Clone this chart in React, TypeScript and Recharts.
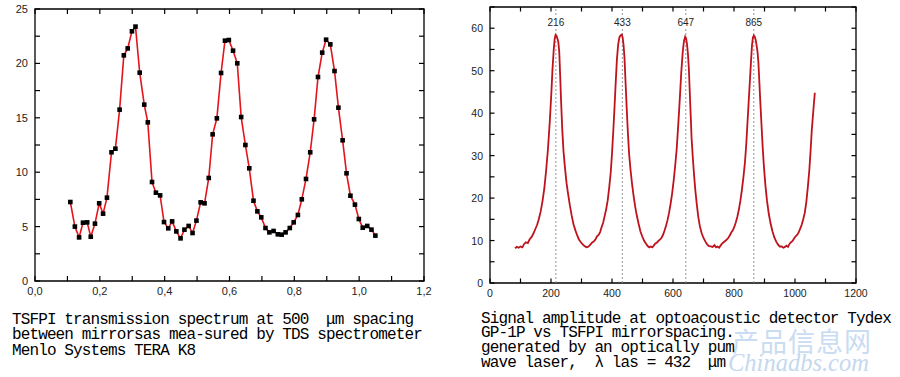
import React from 'react';
import {
  LineChart,
  Line,
  XAxis,
  YAxis,
  ReferenceLine,
  ReferenceArea,
} from 'recharts';

// Left panel: TDS transmission spectrum (frequency, THz -> transmission)
const FREQ = [
  0.109, 0.123, 0.136, 0.148, 0.161, 0.172, 0.185, 0.198, 0.21, 0.222,
  0.236, 0.248, 0.261, 0.274, 0.286, 0.299, 0.31, 0.323, 0.337, 0.348,
  0.361, 0.373, 0.386, 0.398, 0.411, 0.423, 0.436, 0.449, 0.461, 0.474,
  0.486, 0.498, 0.511, 0.523, 0.536, 0.548, 0.561, 0.574, 0.586, 0.598,
  0.611, 0.624, 0.636, 0.649, 0.661, 0.674, 0.686, 0.698, 0.711, 0.723,
  0.736, 0.749, 0.761, 0.773, 0.786, 0.798, 0.811, 0.823, 0.836, 0.849,
  0.861, 0.873, 0.886, 0.898, 0.911, 0.924, 0.936, 0.949, 0.961, 0.973,
  0.987, 0.999, 1.011, 1.025, 1.038, 1.05,
];
const TRANSMISSION = [
  7.26, 5.0, 4.01, 5.36, 5.39, 4.07, 5.27, 7.14, 6.19, 7.66,
  11.83, 12.16, 15.75, 20.74, 21.38, 22.95, 23.38, 19.15, 16.21, 14.58,
  9.1, 8.12, 7.87, 5.42, 4.84, 5.48, 4.56, 3.92, 4.72, 5.06,
  4.41, 5.55, 7.23, 7.14, 9.47, 13.48, 14.95, 19.12, 22.09, 22.15,
  21.17, 20.01, 15.07, 12.5, 10.36, 7.38, 6.4, 5.85, 4.87, 4.47,
  4.6, 4.29, 4.26, 4.47, 4.87, 5.39, 6.07, 7.51, 9.38, 11.83,
  14.86, 18.75, 20.99, 22.18, 21.75, 19.3, 15.93, 12.93, 9.9, 7.84,
  7.02, 5.7, 4.9, 5.06, 4.72, 4.17,
];
const LEFT_X_TICKS = [0, 0.1, 0.2, 0.3, 0.4, 0.5, 0.6, 0.7, 0.8, 0.9, 1.0, 1.1, 1.2];
const LEFT_Y_TICKS = [0, 2.5, 5, 7.5, 10, 12.5, 15, 17.5, 20, 22.5, 25];

// Right panel: optoacoustic signal vs mirror spacing
const SPACING = [
  82, 88, 94, 100, 106, 112, 118, 124, 130, 136, 142, 148, 154, 160, 166, 172, 178, 184, 190, 196,
  201, 205, 209, 212, 215, 218, 221, 224, 227, 230, 233, 237, 241, 246, 251, 256, 262, 268, 274, 280,
  286, 292, 298, 304, 310, 316, 321, 326, 331, 336, 341, 346, 351, 356, 361, 366, 371, 376, 381, 386,
  391, 396, 400, 404, 408, 412, 416, 420, 424, 428, 432, 435, 438, 441, 444, 448, 452, 456, 461, 466,
  471, 476, 481, 487, 493, 499, 505, 511, 517, 522, 527, 532, 537, 542, 547, 552, 557, 562, 567, 572,
  577, 582, 587, 592, 597, 602, 607, 612, 617, 622, 627, 632, 636, 640, 643, 646, 649, 652, 655, 658,
  661, 665, 669, 673, 678, 683, 688, 694, 700, 706, 712, 718, 724, 730, 736, 741, 746, 751, 756, 761,
  766, 771, 776, 781, 786, 791, 796, 801, 806, 811, 816, 821, 826, 831, 836, 840, 844, 848, 852, 856,
  859, 862, 865, 868, 871, 874, 877, 880, 883, 886, 890, 894, 898, 903, 908, 914, 920, 926, 932, 938,
  944, 950, 956, 962, 967, 972, 977, 982, 987, 992, 997, 1002, 1007, 1012, 1017, 1022, 1027, 1032, 1037, 1042,
  1047, 1051, 1055, 1060, 1065,
];
const AMPLITUDE = [
  8.2, 8.5, 8.3, 8.6, 8.4, 9.2, 9.6, 9.4, 10.3, 10.8, 11.6, 12.6, 13.6, 15.0, 16.8, 19.2, 22.2, 26.5, 31.5, 38,
  44.5, 50.5, 55, 57.5, 58.4, 58.2, 57.6, 56.8, 54.5, 49, 43, 36, 31, 27, 23.5, 21, 18.2, 15.8, 13.8, 12.4,
  11.2, 10.2, 9.6, 9.1, 8.7, 8.4, 8.5, 8.8, 9.2, 9.6, 9.8, 10.3, 11.0, 11.3, 12.0, 13.2, 14.2, 15.8, 17.4, 19.5,
  22.6, 26.2, 30.5, 35.5, 41, 47, 52.5, 56, 57.8, 58.3, 58.5, 57.8, 56, 53, 48, 41.5, 35.5, 30.5, 26.5, 23.2,
  20.4, 18, 16, 14, 12.2, 11, 10, 9.3, 8.7, 8.4, 8.6, 8.4, 8.8, 9.3, 9.5, 9.9, 10.2, 10.6, 11.3, 12.3,
  13.4, 14.8, 16.5, 18.6, 21, 24, 27.5, 31.5, 37, 43, 49.5, 54.5, 57, 58, 57.6, 56.2, 54, 50.5, 45, 39.5,
  34, 29.5, 25.5, 22, 18.5, 15.5, 13.4, 11.7, 10.6, 9.8, 9.1, 8.7, 8.6, 8.5, 8.9, 8.4, 8.6, 8.3, 8.8, 9.3,
  9.6, 9.9, 10.2, 10.6, 11.2, 11.9, 12.4, 13.2, 14.3, 15.6, 17.3, 19.4, 22, 25, 28.5, 32.5, 37.5, 42.5, 47.5, 52.5,
  56, 57.8, 58.3, 58, 57.3, 56, 54.5, 52, 47.5, 43, 37.5, 32, 27.5, 23, 19.5, 16.3, 14, 12.2, 10.8, 9.8,
  9.1, 8.6, 8.6, 8.3, 8.5, 8.8, 8.5, 9.2, 9.6, 9.9, 10.5, 11.0, 11.3, 11.9, 12.8, 13.7, 15, 16.5, 19, 22.5,
  26.6, 31, 36, 40.5, 44.8,
];
const PEAK_POS = [216, 434, 642, 865];
const PEAK_LABELS = ['216', '433', '647', '865'];
const RIGHT_X_TICKS = [0, 100, 200, 300, 400, 500, 600, 700, 800, 900, 1000, 1100, 1200];
const RIGHT_Y_TICKS = [0, 5, 10, 15, 20, 25, 30, 35, 40, 45, 50, 55, 60, 65];

const leftData = FREQ.map((f, i) => ({ f, t: TRANSMISSION[i] }));
const rightData = SPACING.map((s, i) => ({ s, a: AMPLITUDE[i] }));

const LABEL_FONT = '"Liberation Sans", Arial, sans-serif';
const CAPTION_FONT = '"Liberation Mono", "DejaVu Sans Mono", monospace';

type TickProps = { x: number; y: number; payload: { value: number } };

// inward tick marks on both opposite edges (plot box is w x h), optional label
function makeXTick(len: number, h: number, fmt: (v: number) => string, fontSize: number) {
  return (p: TickProps) => {
    const { x, y } = p;
    const text = fmt(p.payload.value);
    return (
      <g>
        <line x1={x} x2={x} y1={y} y2={y - len} stroke="#000" strokeWidth={1.2} />
        <line x1={x} x2={x} y1={y - h} y2={y - h + len} stroke="#000" strokeWidth={1.2} />
        {text && (
          <text x={x} y={y + 14} textAnchor="middle" fontSize={fontSize} fill="#222" fontFamily={LABEL_FONT}>
            {text}
          </text>
        )}
      </g>
    );
  };
}

function makeYTick(len: number, w: number, fmt: (v: number) => string, fontSize: number) {
  return (p: TickProps) => {
    const { x, y } = p;
    const text = fmt(p.payload.value);
    return (
      <g>
        <line x1={x} x2={x + len} y1={y} y2={y} stroke="#000" strokeWidth={1.2} />
        <line x1={x + w} x2={x + w - len} y1={y} y2={y} stroke="#000" strokeWidth={1.2} />
        {text && (
          <text x={x - 7} y={y + 4} textAnchor="end" fontSize={fontSize} fill="#222" fontFamily={LABEL_FONT}>
            {text}
          </text>
        )}
      </g>
    );
  };
}

const leftXFmt = (v: number) => {
  const k = Math.round(v * 10);
  return k % 2 === 0 ? (k / 10).toFixed(1).replace('.', ',') : '';
};
const leftYFmt = (v: number) => (v % 5 === 0 ? String(v) : '');
const rightXFmt = (v: number) => (v % 200 === 0 ? String(v) : '');
const rightYFmt = (v: number) => (v % 10 === 0 && v <= 60 ? String(v) : '');

const SquareDot = (p: any) => {
  const { cx, cy, index } = p;
  if (cx == null || cy == null) return <g key={`d-${index}`} />;
  return <rect key={`d-${index}`} x={cx - 2.3} y={cy - 2.3} width={4.6} height={4.6} fill="#000" />;
};

const PeakLabel = (props: any) => {
  const vb = props.viewBox || {};
  const x = vb.x;
  const y = (vb.y || 0) + 19;
  return (
    <g>
      <rect x={x - 10} y={y - 10} width={20} height={12} fill="#fff" />
      <text x={x} y={y} textAnchor="middle" fontSize={10} fill="#222" fontFamily={LABEL_FONT}>
        {props.text}
      </text>
    </g>
  );
};

// plot box: left x 35..424, y 9..281 / right x 490..856, y 7..283
function LeftChart() {
  return (
    <LineChart width={440} height={300} data={leftData} margin={{ top: 9, right: 16, bottom: 18, left: 34 }}>
      <XAxis
        dataKey="f"
        type="number"
        domain={[0, 1.2]}
        ticks={LEFT_X_TICKS}
        interval={0}
        height={1}
        tickSize={0}
        tickMargin={0}
        axisLine={false}
        tickLine={false}
        tick={makeXTick(5, 272, leftXFmt, 11)}
        allowDataOverflow
      />
      <YAxis
        type="number"
        domain={[0, 25]}
        ticks={LEFT_Y_TICKS}
        interval={0}
        width={1}
        tickSize={0}
        tickMargin={0}
        axisLine={false}
        tickLine={false}
        tick={makeYTick(5, 389, leftYFmt, 11)}
        allowDataOverflow
      />
      <ReferenceArea x1={0} x2={1.2} y1={0} y2={25} fill="none" fillOpacity={0} stroke="#000" strokeWidth={1.3} />
      <Line
        type="linear"
        dataKey="t"
        stroke="#e3141c"
        strokeWidth={1.6}
        dot={SquareDot}
        activeDot={false}
        isAnimationActive={false}
      />
    </LineChart>
  );
}

function RightChart() {
  return (
    <LineChart width={450} height={300} data={rightData} margin={{ top: 7, right: 44, bottom: 16, left: 39 }}>
      <XAxis
        dataKey="s"
        type="number"
        domain={[0, 1200]}
        ticks={RIGHT_X_TICKS}
        interval={0}
        height={1}
        tickSize={0}
        tickMargin={0}
        axisLine={false}
        tickLine={false}
        tick={makeXTick(4.5, 276, rightXFmt, 10.5)}
        allowDataOverflow
      />
      <YAxis
        type="number"
        domain={[0, 65]}
        ticks={RIGHT_Y_TICKS}
        interval={0}
        width={1}
        tickSize={0}
        tickMargin={0}
        axisLine={false}
        tickLine={false}
        tick={makeYTick(4.5, 366, rightYFmt, 10.5)}
        allowDataOverflow
      />
      <ReferenceArea x1={0} x2={1200} y1={0} y2={65} fill="none" fillOpacity={0} stroke="#000" strokeWidth={1.3} />
      {PEAK_POS.map((p, i) => (
        <ReferenceLine
          key={p}
          x={p}
          stroke="#8a8a8a"
          strokeWidth={0.9}
          strokeDasharray="2 2"
          label={<PeakLabel text={PEAK_LABELS[i]} />}
        />
      ))}
      <Line
        type="linear"
        dataKey="a"
        stroke="#be121c"
        strokeWidth={1.8}
        dot={false}
        activeDot={false}
        isAnimationActive={false}
      />
    </LineChart>
  );
}

const captionStyle: React.CSSProperties = {
  position: 'absolute',
  fontFamily: CAPTION_FONT,
  fontSize: 16,
  letterSpacing: -0.88,
  color: '#000',
  whiteSpace: 'pre',
  margin: 0,
};

export default function App() {
  return (
    <div style={{ position: 'absolute', left: 0, top: 0, width: 900, height: 377, background: '#fff', overflow: 'hidden' }}>
      <div style={{ position: 'absolute', left: 0, top: 0 }}>
        <LeftChart />
      </div>
      <div style={{ position: 'absolute', left: 450, top: 0 }}>
        <RightChart />
      </div>
      <div style={{ ...captionStyle, left: 12, top: 312.6, lineHeight: '15.7px' }}>
        {'TSFPI transmission spectrum at 500  μm spacing\nbetween mirrorsas mea-sured by TDS spectrometer\nMenlo Systems TERA K8'}
      </div>
      <div
        style={{
          position: 'absolute',
          left: 732,
          top: 326,
          fontFamily: '"Noto Sans CJK SC", sans-serif',
          fontSize: 27,
          color: '#c9dcf1',
          letterSpacing: 1,
          lineHeight: '30px',
        }}
      >
        产品信息网
      </div>
      <div
        style={{
          position: 'absolute',
          left: 728,
          top: 350,
          fontFamily: '"Liberation Serif", serif',
          fontStyle: 'italic',
          fontSize: 24.5,
          color: '#c5d8ef',
          lineHeight: '26px',
        }}
      >
        Chinadbs.com
      </div>
      <div style={{ ...captionStyle, left: 481, top: 311.6, lineHeight: '14.7px' }}>
        {'Signal amplitude at optoacoustic detector Tydex\nGP-1P vs TSFPI mirrorspacing.\ngenerated by an optically pum\nwave laser,  λ las = 432  μm'}
      </div>
    </div>
  );
}
